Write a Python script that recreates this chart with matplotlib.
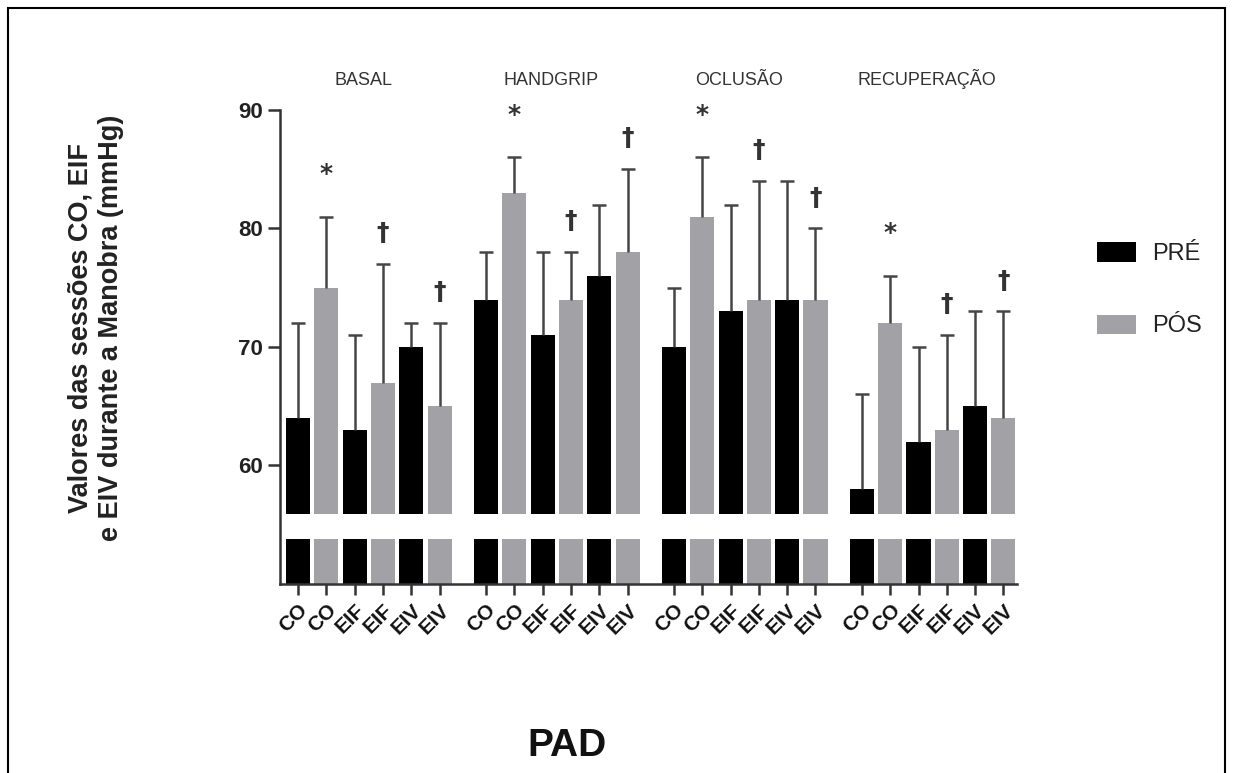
import matplotlib
matplotlib.use('Agg')
import matplotlib.pyplot as plt
import numpy as np
from matplotlib.patches import Rectangle

# ---- data ----
phases = ['BASAL', 'HANDGRIP', 'OCLUSÃO', 'RECUPERAÇÃO']
sessions = ['CO', 'EIF', 'EIV']
pre_means = [[64, 63, 70], [74, 71, 76], [70, 73, 74], [58, 62, 65]]
pre_sd = [[8, 8, 2], [4, 7, 6], [5, 9, 10], [8, 8, 8]]
pos_means = [[75, 67, 65], [83, 74, 78], [81, 74, 74], [72, 63, 64]]
pos_sd = [[6, 10, 7], [3, 4, 7], [5, 10, 6], [4, 8, 9]]
pos_marks = [['*', '†', '†'], ['*', '†', '†'], ['*', '†', '†'], ['*', '†', '†']]
legend_labels = ['PRÉ', 'PÓS']
y_ticks = [60, 70, 80, 90]

plt.rcParams['font.family'] = ['Liberation Sans', 'DejaVu Sans']

fig = plt.figure(figsize=(12.33, 7.73), dpi=100)
ax = fig.add_axes([280/1233, 1-584/773, (1017-280)/1233, (584-110)/773])

group_step = 6.64
pre_x, post_x = [], []
tick_pos, tick_lab = [], []
for g in range(len(phases)):
    for s in range(len(sessions)):
        xp = g*group_step + 2*s
        pre_x.append(xp)
        post_x.append(xp + 1)
        tick_pos += [xp, xp + 1]
        tick_lab += [sessions[s], sessions[s]]

pre_m = np.array(pre_means).ravel()
pre_e = np.array(pre_sd).ravel()
pos_m = np.array(pos_means).ravel()
pos_e = np.array(pos_sd).ravel()
marks = np.array(pos_marks).ravel()

black = '#000000'
gray = '#a2a2a6'
ecol = '#454545'
w = 0.85
ax.bar(pre_x, pre_m, width=w, color=black, zorder=2, label=legend_labels[0])
ax.bar(post_x, pos_m, width=w, color=gray, zorder=2, label=legend_labels[1])
for xs, ms, es in [(pre_x, pre_m, pre_e), (post_x, pos_m, pos_e)]:
    cont = ax.errorbar(xs, ms, yerr=[np.zeros_like(es), es], fmt='none',
                       ecolor=ecol, elinewidth=1.8, capsize=4.7, capthick=1.8, zorder=3)
    for cl in cont[1]:
        if np.allclose(cl.get_ydata(), ms):
            cl.set_visible(False)

for x, m, e, mk in zip(post_x, pos_m, pos_e, marks):
    off = 3.6 if mk == '*' else 2.6
    ax.text(x, m + e + off, mk, ha='center', va='center', fontsize=18,
            fontweight='bold', color='#333333', family=['DejaVu Sans'], zorder=4)

# axis break band
ax.axhspan(53.8, 55.9, xmin=0.004, color='white', zorder=4, lw=0)

ax.set_ylim(50, 90)
ax.set_xlim(-0.64, 25.4)
ax.set_yticks(y_ticks)
ax.set_yticklabels([str(t) for t in y_ticks], fontsize=16, fontweight='bold', color='#222222')
ax.set_xticks(tick_pos)
ax.set_xticklabels(tick_lab, rotation=45, ha='right', rotation_mode='anchor',
                   fontsize=15, fontweight='bold', color='#111111')
ax.tick_params(axis='y', length=9, width=1.8, color='#333333', pad=3)
ax.tick_params(axis='x', length=8, width=1.8, color='#333333', pad=4)
for sp in ['top', 'right']:
    ax.spines[sp].set_visible(False)
for sp in ['left', 'bottom']:
    ax.spines[sp].set_linewidth(1.8)
    ax.spines[sp].set_color('#333333')
    ax.spines[sp].set_zorder(5)

# group titles
for g, ph in enumerate(phases):
    cx = g*group_step + 2.5
    ax.text(cx - 0.2, 1.053, ph, transform=ax.get_xaxis_transform(), ha='center',
            va='baseline', fontsize=13, color='#333333')

fig.text(96/1233, 1-328/773, 'Valores das sessões CO, EIF\ne EIV durante a Manobra (mmHg)',
         rotation=90, ha='center', va='center', fontsize=19.5, fontweight='bold',
         color='#222222', linespacing=1.2)
fig.text(567/1233, 1-746/773, 'PAD', ha='center', va='center', fontsize=28,
         fontweight='bold', color='#111111')

leg = ax.legend(loc='upper left', bbox_to_anchor=((1097-280)/737, (584-242)/474),
                frameon=False, borderpad=0, borderaxespad=0,
                fontsize=17, handlelength=1.65, handleheight=0.9, labelspacing=2.1,
                handletextpad=0.7)
for t in leg.get_texts():
    t.set_color('#222222')

fig.add_artist(Rectangle((8/1233, -0.1), (1225-8)/1233, 1.1 - 8/773,
                         transform=fig.transFigure, fill=False, lw=1.5, ec='black'))

fig.savefig('out.png', dpi=100)
